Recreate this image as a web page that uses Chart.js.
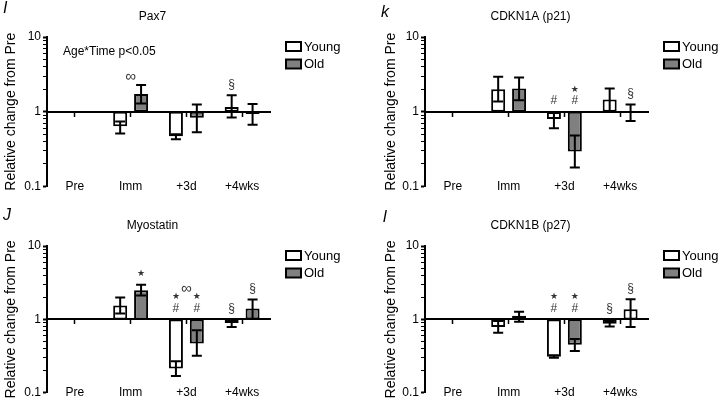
<!DOCTYPE html>
<html>
<head>
<meta charset="utf-8">
<script src="https://cdn.jsdelivr.net/npm/chart.js@4.4.1/dist/chart.umd.min.js"></script>
<style>
  html, body { margin: 0; padding: 0; background: #fff; }
  #wrap { position: relative; width: 720px; height: 402px; }
  canvas { position: absolute; display: block; }
</style>
</head>
<body>
<div id="wrap">
  <canvas id="pax7" width="360" height="200" style="left:0;top:0"></canvas>
  <canvas id="p21" width="360" height="200" style="left:360px;top:0"></canvas>
  <canvas id="myostatin" width="360" height="202" style="left:0;top:200px"></canvas>
  <canvas id="p27" width="360" height="202" style="left:360px;top:200px"></canvas>
</div>
<script>
// shared axis values
const categories = ['Pre', 'Imm', '+3d', '+4wks'];
const seriesNames = ['Young', 'Old'];
const yMajorTicks = [0.1, 1, 10];
const yMajorLabels = ['0.1', '1', '10'];
const yMinorTicks = [0.2, 0.3, 0.4, 0.5, 0.6, 0.7, 0.8, 0.9, 2, 3, 4, 5, 6, 7, 8, 9];

// Pax7
const pax7Young   = [null, 0.64, 0.47, 1.16];
const pax7YoungLo = [null, 0.51, 0.43, 0.84];
const pax7YoungHi = [null, 0.74, 0.50, 1.66];
const pax7Old     = [null, 1.73, 0.83, 0.93];
const pax7OldLo   = [null, 1.29, 0.53, 0.67];
const pax7OldHi   = [null, 2.28, 1.25, 1.27];
const pax7YoungMarks = [[], [], [], ['§']];
const pax7OldMarks   = [[], [], [], []];
const pax7GroupMarks = [[], ['∞'], [], []];

// CDKN1A (p21)
const p21Young   = [null, 2.00, 0.80, 1.46];
const p21YoungLo = [null, 1.37, 0.60, 1.02];
const p21YoungHi = [null, 2.93, 0.96, 2.05];
const p21Old     = [null, 2.05, 0.295, 0.96];
const p21OldLo   = [null, 1.43, 0.18, 0.75];
const p21OldHi   = [null, 2.88, 0.48, 1.25];
const p21YoungMarks = [[], [], ['#'], []];
const p21OldMarks   = [[], [], ['★', '#'], ['§']];
const p21GroupMarks = [[], [], [], []];

// Myostatin
const myoYoung   = [null, 1.55, 0.215, 0.89];
const myoYoungLo = [null, 1.20, 0.17, 0.79];
const myoYoungHi = [null, 1.98, 0.27, 1.00];
const myoOld     = [null, 2.49, 0.47, 1.41];
const myoOldLo   = [null, 2.11, 0.32, 1.02];
const myoOldHi   = [null, 2.97, 0.71, 1.86];
const myoYoungMarks = [[], [], ['★', '#'], ['§']];
const myoOldMarks   = [[], ['★'], ['★', '#'], ['§']];
const myoGroupMarks = [[], [], ['∞'], []];

// CDKN1B (p27)
const p27Young   = [null, 0.79, 0.31, 0.87];
const p27YoungLo = [null, 0.66, 0.30, 0.80];
const p27YoungHi = [null, 0.95, 0.325, 0.95];
const p27Old     = [null, 1.12, 0.45, 1.37];
const p27OldLo   = [null, 0.93, 0.37, 0.79];
const p27OldHi   = [null, 1.27, 0.54, 1.88];
const p27YoungMarks = [[], [], ['★', '#'], ['§']];
const p27OldMarks   = [[], [], ['★', '#'], ['§']];
const p27GroupMarks = [[], [], [], []];

const FONT = '"Liberation Sans", Arial, Helvetica, sans-serif';
const GRAY = '#808080';

// error bars drawn from the y scale
const errorBars = {
  id: 'errorBars',
  afterDatasetsDraw(chart) {
    const ctx = chart.ctx, y = chart.scales.y;
    ctx.save();
    ctx.strokeStyle = '#000';
    ctx.lineWidth = 2;
    chart.data.datasets.forEach((ds, di) => {
      chart.getDatasetMeta(di).data.forEach((bar, i) => {
        if (ds.errHi[i] == null) return;
        const top = y.getPixelForValue(ds.errHi[i]);
        const bot = y.getPixelForValue(ds.errLo[i]);
        ctx.beginPath();
        ctx.moveTo(bar.x, top); ctx.lineTo(bar.x, bot);
        ctx.moveTo(bar.x - 5, top); ctx.lineTo(bar.x + 5, top);
        ctx.moveTo(bar.x - 5, bot); ctx.lineTo(bar.x + 5, bot);
        ctx.stroke();
      });
    });
    ctx.restore();
  }
};

// significance symbols stacked above each bar
function drawMark(ctx, txt, x, y) {
  if (txt === '★') ctx.font = '9px "DejaVu Sans", sans-serif';
  else if (txt === '∞') ctx.font = '15px ' + FONT;
  else ctx.font = '12px ' + FONT;
  ctx.fillText(txt, x, y);
}
const sigMarks = {
  id: 'sigMarks',
  afterDatasetsDraw(chart) {
    const ctx = chart.ctx, y = chart.scales.y;
    const base = y.getPixelForValue(1);
    ctx.save();
    ctx.fillStyle = '#333';
    ctx.textAlign = 'center';
    ctx.textBaseline = 'middle';
    const free = {};
    chart.data.datasets.forEach((ds, di) => {
      chart.getDatasetMeta(di).data.forEach((bar, i) => {
        let anchor = base;
        if (ds.errHi[i] != null) anchor = Math.min(base, y.getPixelForValue(ds.errHi[i]));
        const marks = ds.marks[i];
        for (let k = 0; k < marks.length; k++) {
          drawMark(ctx, marks[marks.length - 1 - k], bar.x, anchor - 11 - k * 11.5);
        }
        const next = anchor - 11 - marks.length * 11.5;
        free[i] = free[i] == null ? next : Math.min(free[i], next);
      });
    });
    const group = chart.options.plugins.sigMarks.group;
    const m0 = chart.getDatasetMeta(0).data, m1 = chart.getDatasetMeta(1).data;
    group.forEach((marks, i) => {
      if (!marks.length) return;
      const x = (m0[i].x + m1[i].x) / 2;
      marks.forEach((t, k) => drawMark(ctx, t, x, free[i] + 3 - k * 11.5));
    });
    ctx.restore();
  }
};

// panel letter, title, note and legend
const decor = {
  id: 'decor',
  afterDraw(chart) {
    const o = chart.options.plugins.decor;
    const ctx = chart.ctx, a = chart.chartArea;
    ctx.save();
    ctx.fillStyle = '#000';
    ctx.textBaseline = 'middle';
    ctx.textAlign = 'left';
    ctx.font = 'italic 16px ' + FONT;
    ctx.fillText(o.letter, o.letterX, o.letterY);
    ctx.textAlign = 'center';
    ctx.font = '12px ' + FONT;
    ctx.fillText(o.title, (a.left + a.right) / 2 - 6, a.top - 20.5);
    if (o.note) {
      ctx.textAlign = 'left';
      ctx.fillText(o.note, a.left + 16, a.top + 15);
    }
    ctx.font = '13px ' + FONT;
    ctx.textAlign = 'left';
    ctx.lineWidth = 2;
    ctx.strokeStyle = '#000';
    chart.data.datasets.forEach((ds, i) => {
      const bx = a.right + 16, by = a.top + 5 + i * 17.5;
      ctx.fillStyle = ds.legendFill;
      ctx.fillRect(bx, by, 15, 9);
      ctx.strokeRect(bx, by, 15, 9);
      ctx.fillStyle = '#000';
      ctx.fillText(ds.label, bx + 18, by + 5);
    });
    ctx.restore();
  }
};

function makePanel(cfg) {
  const openBars = cfg.openOld || [];
  new Chart(document.getElementById(cfg.canvas), {
    type: 'bar',
    data: {
      labels: categories,
      datasets: [
        {
          label: seriesNames[0],
          data: cfg.young.map(v => v == null ? null : [1, v]),
          errLo: cfg.youngLo, errHi: cfg.youngHi, marks: cfg.youngMarks,
          backgroundColor: '#fff', legendFill: '#fff',
          borderColor: '#000', borderWidth: 2, borderSkipped: false
        },
        {
          label: seriesNames[1],
          data: cfg.old.map(v => v == null ? null : [1, v]),
          errLo: cfg.oldLo, errHi: cfg.oldHi, marks: cfg.oldMarks,
          backgroundColor: c => openBars.includes(c.dataIndex) ? '#fff' : GRAY,
          legendFill: GRAY,
          borderColor: '#000', borderWidth: 2, borderSkipped: false
        }
      ]
    },
    options: {
      responsive: false,
      animation: false,
      categoryPercentage: 0.75,
      barPercentage: 0.67,
      layout: { padding: cfg.padding },
      plugins: {
        legend: { display: false },
        tooltip: { enabled: false },
        sigMarks: { group: cfg.groupMarks },
        decor: { letter: cfg.letter, letterX: cfg.letterX, letterY: cfg.letterY, title: cfg.title, note: cfg.note }
      },
      scales: {
        x: {
          type: 'category',
          offset: true,
          grid: { display: false, offset: false },
          border: { display: false },
          // mirror keeps the labels unclipped so they can sit level with the 0.1 tick
          ticks: { mirror: true, padding: -7, maxRotation: 0, autoSkip: false, color: '#000', font: { family: FONT, size: 12 } },
          afterFit: s => { s.height = 0; }
        },
        x1: {
          type: 'category',
          labels: categories,
          position: { y: 1 },
          offset: true,
          grid: { display: true, offset: false, drawOnChartArea: false, drawTicks: true, tickLength: 4, tickColor: '#000', tickWidth: 1.5 },
          border: { display: true, color: '#000', width: 2 },
          ticks: { display: false },
          afterFit: s => { s.height = 0; }
        },
        y: {
          type: 'logarithmic',
          min: 0.1,
          max: 10,
          afterBuildTicks: s => {
            s.ticks = yMajorTicks.concat(yMinorTicks).sort((p, q) => p - q).map(v => ({ value: v }));
          },
          afterFit: s => { s.width = cfg.axisWidth; },
          grid: {
            drawOnChartArea: false, drawTicks: true, tickLength: 4, tickColor: '#000',
            tickWidth: c => yMajorTicks.includes(c.tick && c.tick.value) ? 2 : 1
          },
          border: { display: true, color: '#000', width: 2 },
          ticks: {
            autoSkip: false, padding: 2, color: '#000', font: { family: FONT, size: 12 },
            callback: v => { const k = yMajorTicks.indexOf(v); return k >= 0 ? yMajorLabels[k] : ''; }
          },
          title: {
            display: true, text: 'Relative change from Pre', color: '#000',
            font: { family: FONT, size: 14 }, padding: { top: 3, bottom: 0 }
          }
        }
      }
    },
    plugins: [errorBars, sigMarks, decor]
  });
}

makePanel({
  canvas: 'pax7', letter: 'I', letterX: 3, letterY: 9, title: 'Pax7', note: 'Age*Time p<0.05',
  young: pax7Young, youngLo: pax7YoungLo, youngHi: pax7YoungHi, youngMarks: pax7YoungMarks,
  old: pax7Old, oldLo: pax7OldLo, oldHi: pax7OldHi, oldMarks: pax7OldMarks, groupMarks: pax7GroupMarks,
  padding: { left: 0, right: 90, top: 37, bottom: 13.5 }, axisWidth: 47
});
makePanel({
  canvas: 'p21', letter: 'k', letterX: 21, letterY: 13, title: 'CDKN1A (p21)',
  young: p21Young, youngLo: p21YoungLo, youngHi: p21YoungHi, youngMarks: p21YoungMarks,
  old: p21Old, oldLo: p21OldLo, oldHi: p21OldHi, oldMarks: p21OldMarks, groupMarks: p21GroupMarks,
  padding: { left: 20, right: 72, top: 37, bottom: 13.5 }, axisWidth: 45
});
makePanel({
  canvas: 'myostatin', letter: 'J', letterX: 3, letterY: 16, title: 'Myostatin',
  young: myoYoung, youngLo: myoYoungLo, youngHi: myoYoungHi, youngMarks: myoYoungMarks,
  old: myoOld, oldLo: myoOldLo, oldHi: myoOldHi, oldMarks: myoOldMarks, groupMarks: myoGroupMarks,
  padding: { left: 0, right: 90, top: 46, bottom: 8 }, axisWidth: 47
});
makePanel({
  canvas: 'p27', letter: 'l', letterX: 23, letterY: 18, title: 'CDKN1B (p27)',
  young: p27Young, youngLo: p27YoungLo, youngHi: p27YoungHi, youngMarks: p27YoungMarks,
  old: p27Old, oldLo: p27OldLo, oldHi: p27OldHi, oldMarks: p27OldMarks, groupMarks: p27GroupMarks,
  openOld: [3],
  padding: { left: 20, right: 72, top: 46, bottom: 8 }, axisWidth: 45
});
</script>
</body>
</html>
